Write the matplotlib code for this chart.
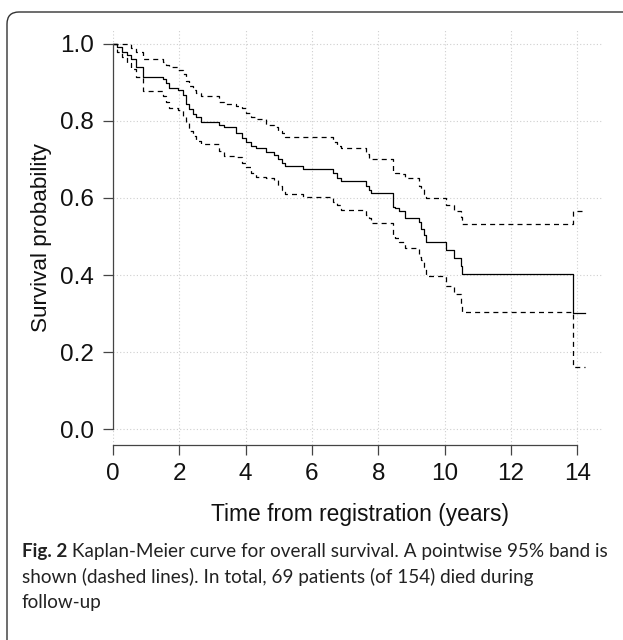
import matplotlib
matplotlib.use("Agg")
import matplotlib.pyplot as plt
from matplotlib.patches import FancyBboxPatch

# Kaplan-Meier estimate (years, survival) with pointwise 95% band
times = [0, 0.13, 0.28, 0.43, 0.53, 0.68, 0.9, 1.5, 1.6, 1.7, 1.95, 2.1, 2.2,
         2.3, 2.4, 2.5, 2.65, 3.2, 3.35, 3.7, 3.9, 4.0, 4.15, 4.3, 4.6, 4.85,
         4.98, 5.1, 5.2, 5.72, 6.65, 6.77, 6.87, 7.62, 7.72, 7.77, 8.44, 8.52,
         8.62, 8.8, 9.23, 9.3, 9.38, 9.43, 10.03, 10.28, 10.51, 10.53, 13.87]
surv = [1.0, 0.993, 0.98, 0.972, 0.96, 0.94, 0.915, 0.908, 0.898, 0.885, 0.88,
        0.868, 0.844, 0.83, 0.817, 0.81, 0.796, 0.79, 0.783, 0.77, 0.757, 0.745,
        0.736, 0.73, 0.72, 0.712, 0.70, 0.69, 0.682, 0.674, 0.664, 0.653, 0.645,
        0.632, 0.622, 0.613, 0.577, 0.573, 0.565, 0.549, 0.537, 0.52, 0.503,
        0.487, 0.466, 0.445, 0.423, 0.402, 0.302]
upper = [1.0, 1.0, 1.0, 1.0, 0.99, 0.979, 0.96, 0.953, 0.945, 0.94, 0.932,
         0.923, 0.904, 0.89, 0.88, 0.872, 0.864, 0.85, 0.843, 0.84, 0.834, 0.82,
         0.809, 0.805, 0.79, 0.783, 0.775, 0.768, 0.758, 0.758, 0.745, 0.735,
         0.729, 0.715, 0.704, 0.70, 0.670, 0.666, 0.663, 0.651, 0.63, 0.624,
         0.61, 0.60, 0.583, 0.566, 0.55, 0.532, 0.566]
lower = [1.0, 0.98, 0.965, 0.95, 0.935, 0.915, 0.877, 0.864, 0.85, 0.834, 0.828,
         0.81, 0.795, 0.775, 0.76, 0.748, 0.74, 0.723, 0.708, 0.706, 0.69, 0.681,
         0.666, 0.655, 0.652, 0.647, 0.632, 0.62, 0.611, 0.603, 0.59, 0.582,
         0.569, 0.555, 0.548, 0.535, 0.503, 0.495, 0.486, 0.469, 0.448, 0.44,
         0.42, 0.397, 0.372, 0.35, 0.325, 0.305, 0.161]
t_last = 14.25

x_ticks = [0, 2, 4, 6, 8, 10, 12, 14]
y_ticks = [0.0, 0.2, 0.4, 0.6, 0.8, 1.0]

caption_bold = "Fig. 2"
caption_lines = [" Kaplan-Meier curve for overall survival. A pointwise 95% band is",
                 "shown (dashed lines). In total, 69 patients (of 154) died during",
                 "follow-up"]

plt.rcParams['font.family'] = ['Liberation Sans', 'DejaVu Sans']

fig = plt.figure(figsize=(6.23, 6.40), dpi=100)
ax = fig.add_axes([113 / 623, 1 - 444.5 / 640, (602 - 113) / 623, (444.5 - 28.5) / 640])

tt = times + [t_last]
ax.step(tt, surv + [surv[-1]], where='post', color='black', lw=0.9)
for band in (upper, lower):
    ax.step(tt, band + [band[-1]], where='post', color='black', lw=0.9,
            dashes=(4, 3.3))

ax.set_xlim(0, 14.75)
ax.set_ylim(-0.04, 1.04)
ax.set_xticks(x_ticks)
ax.set_yticks(y_ticks)
ax.set_yticklabels(['%.1f' % v for v in y_ticks])
ax.grid(True, color='#cfcfcf', linestyle=(0, (1, 2)), lw=0.8)

for s in ('top', 'right'):
    ax.spines[s].set_visible(False)
ax.spines['left'].set_bounds(0, 1)
ax.spines['bottom'].set_bounds(0, 14)
for s in ('left', 'bottom'):
    ax.spines[s].set_color('#444444')
    ax.spines[s].set_linewidth(0.9)
ax.tick_params(length=7, width=0.9, color='#444444', labelsize=17.5,
               labelcolor='#111111')
ax.tick_params(axis='x', pad=6)
ax.tick_params(axis='y', pad=7)

fig.text(360 / 623, 1 - 514 / 640, "Time from registration (years)",
         ha='center', va='center', fontsize=16.4, color='#111111')
fig.text(42 / 623, 1 - 237.5 / 640, "Survival probability", rotation=90,
         ha='center', va='center', fontsize=16.2, color='#111111')

# rounded frame around figure + caption
frame = FancyBboxPatch((7, -40), 700, 668, boxstyle="round,pad=0,rounding_size=12",
                       transform=None, fill=False, ec='#333333', lw=1.0)
fig.patches.append(frame)

cap_font = ['Lato', 'DejaVu Sans']
cap_size = 13.6
y0 = 1 - 557 / 640
t1 = fig.text(22 / 623, y0, caption_bold, fontsize=cap_size, fontweight='bold',
              family=cap_font, va='baseline', color='#222222')
ax.annotate(caption_lines[0], xy=(1, 0), xycoords=t1, va='bottom', ha='left',
            fontsize=cap_size, family=cap_font, color='#222222',
            annotation_clip=False)
for i, line in enumerate(caption_lines[1:]):
    fig.text(22 / 623, y0 - (i + 1) * 25.5 / 640, line, fontsize=cap_size,
             family=cap_font, va='baseline', color='#222222')

fig.savefig("out.png", dpi=100)
